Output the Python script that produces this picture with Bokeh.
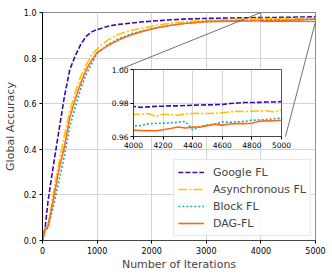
from bokeh.plotting import figure
from bokeh.models import Range1d, FixedTicker, PrintfTickFormatter, Legend, LegendItem
from bokeh.layouts import column
from bokeh.embed import file_html
from bokeh.resources import INLINE

# ---------------- data ----------------
iterations = [0, 50, 100, 150, 200, 300, 400, 500, 600, 700, 800, 900, 1000,
              1200, 1400, 1600, 1800, 2000, 2300, 2600, 3000, 3500,
              4000, 4050, 4100, 4150, 4200, 4250, 4300, 4350, 4400, 4450, 4500,
              4550, 4600, 4650, 4700, 4750, 4800, 4850, 4900, 4950, 5000]

google_fl = [0.0, 0.06, 0.17, 0.25, 0.33, 0.48, 0.63, 0.75, 0.81, 0.86, 0.895, 0.915, 0.925,
             0.94, 0.948, 0.953, 0.958, 0.962, 0.967, 0.971, 0.974, 0.976,
             0.9779, 0.9774, 0.9777, 0.9780, 0.9781, 0.9783, 0.9783, 0.9785, 0.9787, 0.9788, 0.9789,
             0.9790, 0.9791, 0.9797, 0.9800, 0.9803, 0.9803, 0.9804, 0.9806, 0.9806, 0.9808]

async_fl = [0.0, 0.05, 0.07, 0.13, 0.21, 0.34, 0.46, 0.57, 0.65, 0.72, 0.77, 0.815, 0.84,
            0.88, 0.905, 0.92, 0.93, 0.94, 0.952, 0.96, 0.966, 0.970,
            0.9731, 0.9733, 0.9737, 0.9720, 0.9733, 0.9730, 0.9727, 0.9735, 0.9737, 0.9738, 0.9737,
            0.9738, 0.9742, 0.9747, 0.9750, 0.9749, 0.9751, 0.9752, 0.9754, 0.9746, 0.9762]

block_fl = [0.0, 0.045, 0.055, 0.10, 0.15, 0.26, 0.37, 0.50, 0.585, 0.665, 0.73, 0.775, 0.82,
            0.86, 0.885, 0.905, 0.918, 0.93, 0.943, 0.952, 0.96, 0.964,
            0.9663, 0.9665, 0.9676, 0.9678, 0.9680, 0.9682, 0.9685, 0.9690, 0.9640, 0.9660, 0.9668,
            0.9674, 0.9686, 0.9685, 0.9687, 0.9690, 0.9697, 0.9699, 0.9701, 0.9706, 0.9711]

dag_fl = [0.0, 0.055, 0.06, 0.12, 0.18, 0.31, 0.41, 0.54, 0.62, 0.69, 0.75, 0.79, 0.825,
          0.855, 0.88, 0.90, 0.915, 0.928, 0.942, 0.952, 0.96, 0.962,
          0.9638, 0.9636, 0.9635, 0.9634, 0.9640, 0.9648, 0.9657, 0.9651, 0.9656, 0.9657, 0.9665,
          0.9674, 0.9668, 0.9675, 0.9677, 0.9677, 0.9679, 0.9691, 0.9693, 0.9694, 0.9697]

series_names = ["Google FL", "Asynchronous FL", "Block FL", "DAG-FL"]
main_x_ticks = [0, 1000, 2000, 3000, 4000, 5000]
main_y_ticks = [0.0, 0.2, 0.4, 0.6, 0.8, 1.0]
inset_x_ticks = [4000, 4200, 4400, 4600, 4800, 5000]
inset_y_ticks = [0.96, 0.98, 1.00]
zoom_x = (4000, 5000)
zoom_y = (0.96, 1.0)

# ---------------- styles ----------------
colors = ["#3a0ca3", "#ffc20a", "#1aaab0", "#ff6a13"]
dashes = ["5 2", "9 2 2 2", "2 2", "solid"]
FONT = "DejaVu Sans"
GRID = "#d4d4d4"

# layout constants (page pixels)
ML, MR, MT, MB = 40, 14, 12, 30
FW, FH = 273, 228
PAGE = 0

def style_axes(fig, label_size="8px", standoff=3):
    for ax in (fig.xaxis, fig.yaxis):
        ax.major_label_text_font = FONT
        ax.major_label_text_font_size = label_size
        ax.major_label_text_color = "#000000"
        ax.major_tick_in = 0
        ax.major_tick_out = 3
        ax.minor_tick_line_color = None
        ax.major_label_standoff = standoff
        ax.axis_label_text_font = FONT
        ax.axis_label_text_font_style = "normal"
        ax.axis_label_text_font_size = "11px"
        ax.axis_label_standoff = 4
    fig.grid.grid_line_color = GRID
    fig.grid.grid_line_width = 1

# ---------------- main figure ----------------
p = figure(frame_width=FW, frame_height=FH, output_backend="svg",
           toolbar_location=None, x_range=Range1d(0, 5000), y_range=Range1d(0, 1.0),
           min_border_left=ML, min_border_right=MR, min_border_top=MT, min_border_bottom=MB)
p.outline_line_color = "#8c8c8c"
style_axes(p)
p.xaxis.ticker = FixedTicker(ticks=main_x_ticks)
p.yaxis.ticker = FixedTicker(ticks=main_y_ticks)
p.yaxis.formatter = PrintfTickFormatter(format="%.1f")
p.xaxis.axis_label = "Number of Iterations"
p.yaxis.axis_label = "Global Accuracy"
p.yaxis.axis_line_color = "#000000"
p.xaxis.axis_line_color = "#444444"
p.xaxis.axis_label_standoff = 1

all_series = [google_fl, async_fl, block_fl, dag_fl]
items = []
for name, ys, c, d in zip(series_names, all_series, colors, dashes):
    r = p.line(iterations, ys, line_color=c, line_width=1.6, line_dash=d)
    items.append(LegendItem(label=name, renderers=[r]))

# zoom indicator box
p.quad(left=[zoom_x[0]], right=[zoom_x[1]], bottom=[zoom_y[0]], top=[zoom_y[1]],
       fill_color=None, line_color="#808080", line_width=1)

# inset frame placement (page pixels)
IN_L, IN_T, IN_W, IN_H = 117, 69, 166, 67
main_frame_left = PAGE + ML
main_frame_top = PAGE + MT

def px_to_x(px):
    return (px - main_frame_left) / FW * 5000.0

def py_to_y(py):
    return 1.0 - (py - main_frame_top) / FH * 1.0

p.segment(x0=[zoom_x[0], zoom_x[1]], y0=[zoom_y[1], zoom_y[0]],
          x1=[px_to_x(IN_L), px_to_x(IN_L + IN_W)], y1=[py_to_y(IN_T), py_to_y(IN_T + IN_H)],
          line_color="#606060", line_width=0.9)

legend = Legend(items=items, location="bottom_right")
legend.label_text_font = FONT
legend.label_text_font_size = "11px"
legend.label_height = 16
legend.glyph_height = 16
legend.glyph_width = 26
legend.label_standoff = 9
legend.padding = 4
legend.spacing = 1
legend.margin = 4
legend.border_line_color = "#d0d0d0"
legend.background_fill_alpha = 0.85
p.add_layout(legend)

# ---------------- inset figure ----------------
IL, IR, IT, IB = 26, 12, 5, 16
inset = figure(width=IL + IN_W + IR, height=IT + IN_H + IB, output_backend="svg",
               toolbar_location=None, x_range=Range1d(*zoom_x), y_range=Range1d(*zoom_y),
               min_border_left=IL, min_border_right=IR, min_border_top=IT, min_border_bottom=IB)
inset.border_fill_alpha = 0
inset.background_fill_color = "#ffffff"
inset.outline_line_color = "#555555"
style_axes(inset, label_size="7.5px", standoff=2)
inset.xaxis.ticker = FixedTicker(ticks=inset_x_ticks)
inset.yaxis.ticker = FixedTicker(ticks=inset_y_ticks)
inset.yaxis.formatter = PrintfTickFormatter(format="%.2f")
inset.xaxis.axis_line_color = "#444444"
inset.yaxis.axis_line_color = "#444444"
for ys, c, d in zip(all_series, colors, dashes):
    inset.line(iterations, ys, line_color=c, line_width=1.6, line_dash=d)

inset.styles = {"position": "absolute",
                "left": f"{IN_L - IL - PAGE}px",
                "top": f"{IN_T - IT - PAGE}px"}

layout = column(p, inset)
open("out.html", "w").write(file_html(layout, INLINE))
